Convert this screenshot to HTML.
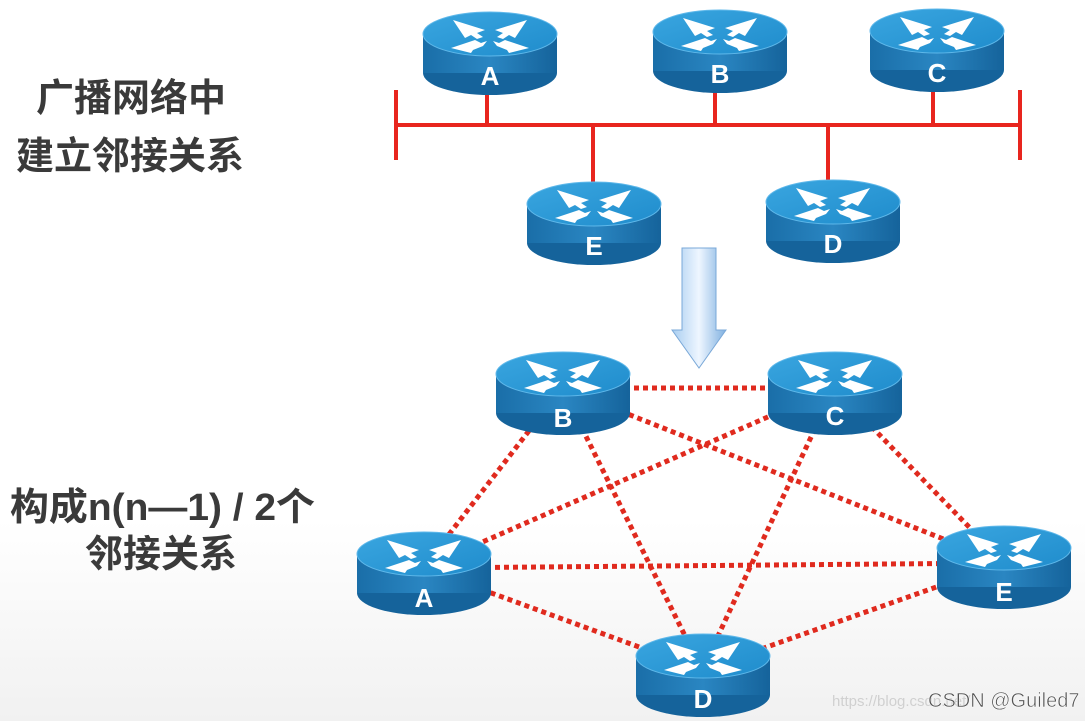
<!DOCTYPE html>
<html><head><meta charset="utf-8"><style>
body{margin:0;width:1085px;height:721px;overflow:hidden;background:linear-gradient(#fff 0,#fff 520px,#f1f1f1 721px);font-family:"Liberation Sans","Noto Sans CJK SC",sans-serif}
svg{position:absolute;left:0;top:0}
</style></head><body>
<svg width="1085" height="721" viewBox="0 0 1085 721">
<defs>
<linearGradient id="side" x1="0" x2="1"><stop offset="0" stop-color="#1a6ea8"/><stop offset="0.5" stop-color="#2a86c2"/><stop offset="1" stop-color="#15639b"/></linearGradient>
<linearGradient id="top" y1="0" y2="1"><stop offset="0" stop-color="#3aa6e0"/><stop offset="1" stop-color="#1f8ccc"/></linearGradient>
<linearGradient id="arr" x1="0" x2="1"><stop offset="0" stop-color="#a8cdf0"/><stop offset="0.5" stop-color="#eef6ff"/><stop offset="1" stop-color="#7fb0e0"/></linearGradient>
<g id="r">
<ellipse cx="67" cy="63" rx="67" ry="22" fill="#15639b"/>
<rect x="0" y="24" width="134" height="39" fill="url(#side)"/>
<ellipse cx="67" cy="24" rx="67" ry="22" fill="url(#top)" stroke="#5fb8ea" stroke-width="1"/>
<g fill="#fff">
<polygon points="30,10 62,20 54,23 60,27 54,29 48,25 42,28"/>
<polygon points="104,10 72,20 80,23 74,27 80,29 86,25 92,28"/>
<polygon points="28,38 52,30 58,33 64,31 60,36 50,40 48,43"/>
<polygon points="106,38 82,30 76,33 70,31 74,36 84,40 86,43"/>
</g>
</g>
</defs>
<g stroke="#e8251e" stroke-width="4" fill="none">
<line x1="396" y1="125" x2="1020" y2="125"/>
<line x1="396" y1="90" x2="396" y2="160"/>
<line x1="1020" y1="90" x2="1020" y2="160"/>
<line x1="487" y1="90" x2="487" y2="125"/>
<line x1="715" y1="88" x2="715" y2="125"/>
<line x1="933" y1="86" x2="933" y2="125"/>
<line x1="593" y1="125" x2="593" y2="185"/>
<line x1="828" y1="125" x2="828" y2="183"/>
</g>
<use href="#r" x="423" y="10"/>
<use href="#r" x="653" y="8"/>
<use href="#r" x="870" y="7"/>
<use href="#r" x="527" y="180"/>
<use href="#r" x="766" y="178"/>
<polygon points="682,248 716,248 716,330 726,330 699,368 672,330 682,330" fill="url(#arr)" stroke="#7aa8d8" stroke-width="1"/>
<g stroke="#e02a1e" stroke-width="5" stroke-dasharray="5 4" fill="none">
<line x1="562" y1="388" x2="834" y2="388"/>
<line x1="562" y1="388" x2="423" y2="568"/>
<line x1="562" y1="388" x2="1004" y2="563"/>
<line x1="562" y1="388" x2="702" y2="670"/>
<line x1="834" y1="388" x2="423" y2="568"/>
<line x1="834" y1="388" x2="1004" y2="563"/>
<line x1="834" y1="388" x2="702" y2="670"/>
<line x1="423" y1="568" x2="1004" y2="563"/>
<line x1="423" y1="568" x2="702" y2="670"/>
<line x1="1004" y1="563" x2="702" y2="670"/>
</g>
<use href="#r" x="496" y="350"/>
<use href="#r" x="768" y="350"/>
<use href="#r" x="357" y="530"/>
<use href="#r" x="937" y="524"/>
<use href="#r" x="636" y="632"/>
<g fill="#fff" font-weight="bold" font-size="26" text-anchor="middle" font-family="Liberation Sans,sans-serif">
<text x="490" y="85">A</text><text x="720" y="83">B</text><text x="937" y="82">C</text>
<text x="594" y="255">E</text><text x="833" y="253">D</text>
<text x="563" y="427">B</text><text x="835" y="425">C</text>
<text x="424" y="607">A</text><text x="1004" y="601">E</text><text x="703" y="708">D</text>
</g>
<g fill="#3a3a3a" font-weight="bold" font-size="38" font-family="Liberation Sans,Noto Sans CJK SC,sans-serif">
<text x="36" y="111">广播网络中</text>
<text x="16" y="169">建立邻接关系</text>
<text x="10" y="520" textLength="305" lengthAdjust="spacingAndGlyphs">构成n(n—1) / 2个</text>
<text x="85" y="567">邻接关系</text>
</g>
<text x="832" y="706" fill="#d0d0d0" font-size="15">https://blog.csdn.net/</text>
<text x="928" y="707" fill="#555" font-size="20" stroke="#fff" stroke-width="0.5">CSDN @Guiled7</text>
</svg>
</body></html>
